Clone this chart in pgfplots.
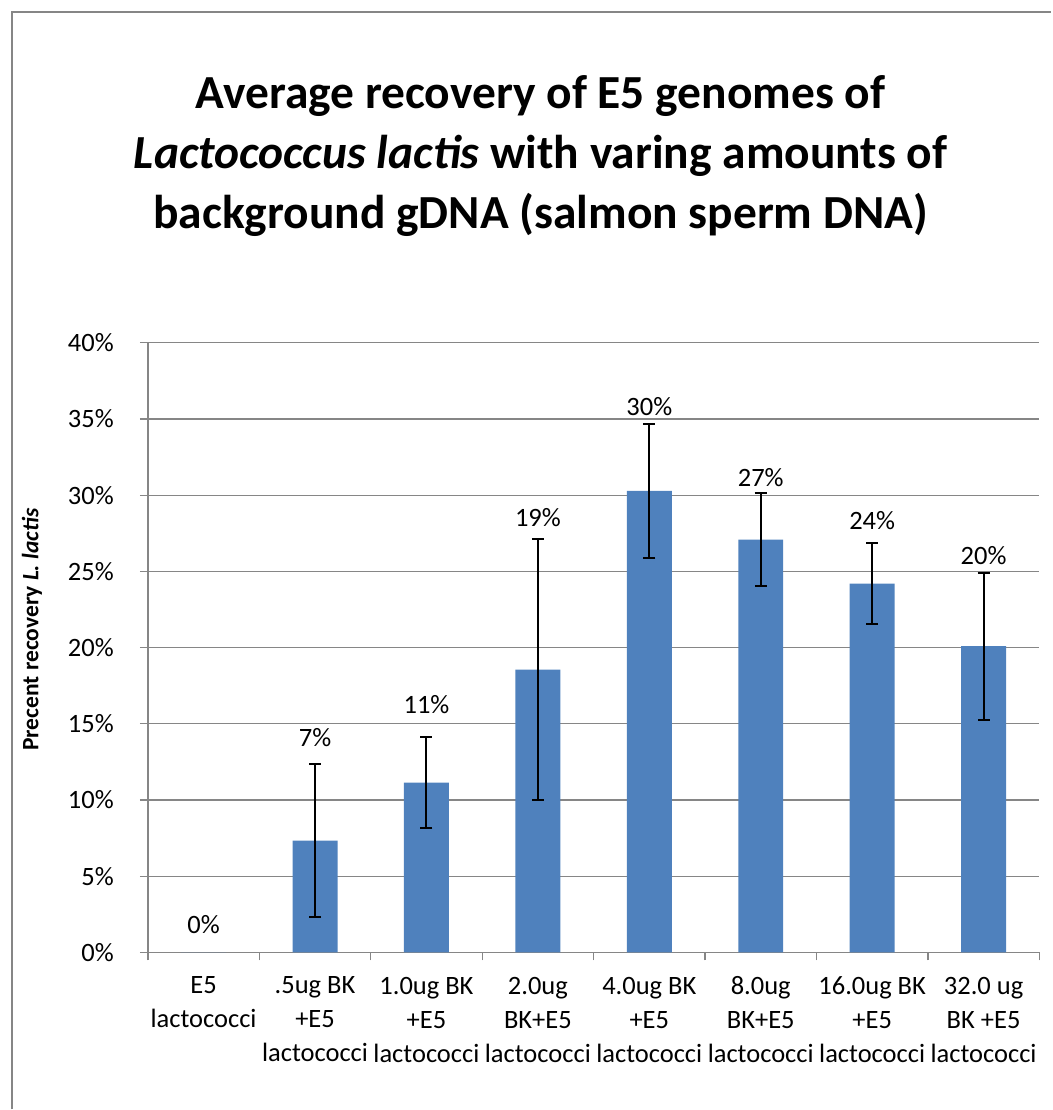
\documentclass[border=0pt]{standalone}
\usepackage{pgfplots}
\pgfplotsset{compat=1.18}
\usepackage{pgfplotstable}
\usepackage{fontspec}
\setmainfont{Carlito}
\definecolor{barblue}{HTML}{4F81BD}
\definecolor{axisgray}{HTML}{868686}
\pgfplotstableread{
x y err lt lab
0 0.0 0.0 1.25 0\%
1 7.33 5.00 13.51 7\%
2 11.14 2.97 15.69 11\%
3 18.55 8.58 27.93 19\%
4 30.28 4.39 35.21 30\%
5 27.08 3.03 30.56 27\%
6 24.20 2.66 27.74 24\%
7 20.09 4.83 25.44 20\%
}\datatable
\begin{document}
\begin{tikzpicture}[x=1pt,y=1pt]
\path (0,0) rectangle (1052,1110);
\draw[axisgray, line width=1.5pt] (12,0) -- (12,1098) -- (1052,1098);
\node[align=center, font=\fontsize{47.5}{60}\selectfont\bfseries] at (541,954)
 {Average recovery of E5 genomes of\\ \textit{Lactococcus lactis} with varing amounts of\\ background gDNA (salmon sperm DNA)};
\node[rotate=90, font=\fontsize{23.5}{28}\selectfont\bfseries] at (32,480) {Precent recovery \textit{L. lactis}};
\begin{axis}[
 at={(148pt,157pt)}, anchor=south west,
 scale only axis, width=892pt, height=610pt,
 xmin=-0.5, xmax=7.5, ymin=0, ymax=40,
 xtick={0,...,7},
 xticklabels={{E5\\lactococci},{.5ug BK\\+E5\\lactococci},{1.0ug BK\\+E5\\lactococci},{2.0ug\\BK+E5\\lactococci},{4.0ug BK\\+E5\\lactococci},{8.0ug\\BK+E5\\lactococci},{16.0ug BK\\+E5\\lactococci},{32.0 ug\\BK +E5\\lactococci}},
 minor xtick={-0.5,0.5,...,7.5},
 ytick={0,5,...,40},
 yticklabel={\pgfmathprintnumber{\tick}\%},
 /pgf/number format/assume math mode=true,
 axis x line*=bottom, axis y line*=left,
 axis line style={color=axisgray, line width=1.3pt},
 ymajorgrids, grid style={axisgray, line width=1.3pt},
 tick align=outside,
 major tick length=8pt, minor tick length=8pt,
 major x tick style={draw=none},
 minor x tick style={draw=axisgray, line width=1.3pt},
 ytick style={draw=axisgray, line width=1.3pt},
 xticklabel style={align=center, anchor=north, yshift=-13pt, execute at begin node={\strut}, font=\fontsize{26.5}{34}\selectfont},
 yticklabel style={anchor=east, inner sep=0pt, xshift=-26pt, font=\fontsize{26.5}{31}\selectfont},
 clip=false,
]
\addplot[ybar, bar width=45pt, bar shift=0pt, fill=barblue, draw=none] table[x=x, y=y] {\datatable};
\addplot[draw=none, mark=none,
  skip coords between index={0}{1},
  error bars/.cd, y dir=both, y explicit,
  error bar style={draw=black, line width=2pt},
  error mark options={rotate=90, mark size=6pt, line width=2pt, draw=black}]
  table[x=x, y=y, y error=err] {\datatable};
\addplot[draw=none, mark=none, nodes near coords, point meta=explicit symbolic,
  nodes near coords style={anchor=base, inner sep=0pt, font=\fontsize{26.5}{31}\selectfont, text=black}]
  table[x=x, y=lt, meta=lab] {\datatable};
\end{axis}
\end{tikzpicture}
\end{document}
